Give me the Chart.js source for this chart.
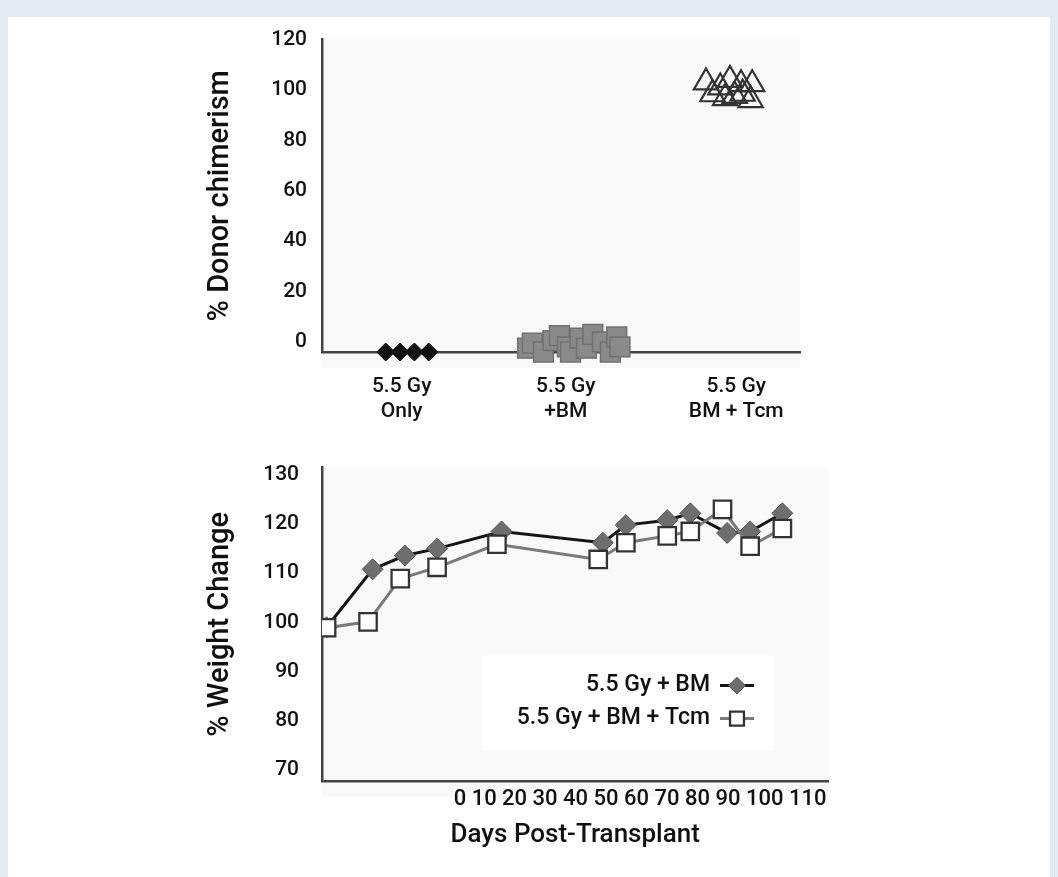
<!DOCTYPE html>
<html>
<head>
<meta charset="utf-8">
<script src="https://cdn.jsdelivr.net/npm/chart.js@4.4.1/dist/chart.umd.min.js"></script>
<style>
  html, body { margin: 0; padding: 0; }
  body { width: 1058px; height: 877px; background: #e4eaf4; position: relative; overflow: hidden; }
  #panel { position: absolute; left: 8px; top: 17px; right: 8px; bottom: 0; background: #fff; }
  canvas { position: absolute; }
  #chimerism { left: 203px; top: 20px; }
  #weight { left: 203px; top: 440px; }
</style>
</head>
<body>
<div id="panel"></div>
<canvas id="chimerism" width="617" height="410"></canvas>
<canvas id="weight" width="640" height="430"></canvas>
<script>
// ---- top panel: % donor chimerism per group ----
const groupTicks = [0.5, 1.53, 2.6];
const groupLabels = [['5.5 Gy', 'Only'], ['5.5 Gy', '+BM'], ['5.5 Gy', 'BM + Tcm']];
const chimerismTicks = [0, 20, 40, 60, 80, 100, 120];

const onlyX = [0.40, 0.49, 0.58, 0.67];
const onlyY = [0, 0, 0, 0];
const bmX = [1.29, 1.32, 1.39, 1.45, 1.49, 1.54, 1.56, 1.62, 1.66, 1.70, 1.76, 1.81, 1.85, 1.87];
const bmY = [1.5, 3.5, 0, 4.5, 6.5, 2, 0, 5.5, 1.5, 7, 4, 0, 6, 2];
const tcmX = [2.41, 2.50, 2.56, 2.63, 2.70, 2.45, 2.53, 2.59, 2.64, 2.69];
const tcmY = [107, 105, 108, 106.3, 106.3, 102.3, 100.8, 101.7, 102.5, 100];

// ---- bottom panel: % weight change over time ----
const daysBM = [1, 11, 18, 25, 39, 61, 66, 75, 80, 88, 93, 100];
const weightBM = [99, 110.8, 113.6, 115.0, 118.5, 116.2, 119.8, 120.8, 122.2, 118.2, 118.5, 122.2];
const daysTcm = [1, 10, 17, 25, 38, 60, 66, 75, 80, 87, 93, 100];
const weightTcm = [98.9, 100.1, 108.9, 111.2, 115.9, 112.8, 116.2, 117.6, 118.5, 123.0, 115.5, 119.1];
const weightTicks = [70, 80, 90, 100, 110, 120, 130];
const dayTickLabels = ['0', '10', '20', '30', '40', '50', '60', '70', '80', '90', '100', '110'];

const FONT = 'Roboto, "Liberation Sans", Arial, sans-serif';
const WEIGHT = '500';
const INK = '#111';
const AXIS = '#444';

Chart.defaults.font.family = FONT;
Chart.defaults.font.weight = WEIGHT;
Chart.defaults.color = INK;

function pts(xs, ys) {
    return xs.map(function(x, i) { return { x: x, y: ys[i] }; });
}

function fixTicks(values) {
    return function(scale) { scale.ticks = values.map(function(v) { return { value: v }; }); };
}

// faint grey plot background, like the scanned figure
const plotShade = {
    id: 'plotShade',
    beforeDraw: function(chart) {
        const a = chart.chartArea, ctx = chart.ctx;
        ctx.save();
        ctx.fillStyle = '#f9f9f9';
        ctx.fillRect(a.left, a.top, a.right - a.left, a.bottom - a.top + 16);
        ctx.restore();
    }
};

new Chart(document.getElementById('chimerism'), {
    type: 'scatter',
    data: {
        datasets: [
            { label: '5.5 Gy Only', data: pts(onlyX, onlyY), pointStyle: 'rectRot', pointRadius: 9,
              backgroundColor: '#111', borderColor: '#111', borderWidth: 1, clip: false },
            { label: '5.5 Gy +BM', data: pts(bmX, bmY), pointStyle: 'rect', pointRadius: 14,
              backgroundColor: '#8a8a8a', borderColor: '#707070', borderWidth: 1.5, clip: false },
            { label: '5.5 Gy BM + Tcm', data: pts(tcmX, tcmY), pointStyle: 'triangle', pointRadius: 14,
              backgroundColor: 'rgba(255,255,255,0)', borderColor: '#333', borderWidth: 2.2, clip: false }
        ]
    },
    options: {
        responsive: false,
        animation: false,
        devicePixelRatio: 1,
        layout: { padding: { top: 14, right: 20, left: 0, bottom: 0 } },
        plugins: { legend: { display: false }, tooltip: { enabled: false } },
        scales: {
            x: {
                type: 'linear', min: 0, max: 3,
                grid: { display: false },
                border: { color: AXIS, width: 2.5 },
                afterBuildTicks: fixTicks(groupTicks),
                afterFit: function(s) { s.height = 78; },
                ticks: { padding: 14, autoSkip: false, maxRotation: 0, font: { size: 21 }, color: INK,
                         callback: function(v, i) { return groupLabels[i]; } }
            },
            y: {
                min: 0, max: 124,
                grid: { display: false },
                border: { color: AXIS, width: 2.5 },
                afterBuildTicks: fixTicks(chimerismTicks),
                afterFit: function(s) { s.width = 119; },
                ticks: { padding: 7, labelOffset: -10, font: { size: 21 }, color: INK },
                title: { display: true, text: '% Donor chimerism', font: { size: 29 }, color: INK, padding: 0 }
            }
        }
    },
    plugins: [plotShade]
});

// legend inside the plot + the row of day labels under the axis
const weightExtras = {
    id: 'weightExtras',
    afterDraw: function(chart) {
        const a = chart.chartArea, ctx = chart.ctx;
        ctx.save();
        ctx.fillStyle = '#fff';
        ctx.fillRect(a.left + 161, a.top + 188, 290, 95);

        ctx.font = WEIGHT + ' 23px ' + FONT;
        ctx.textAlign = 'right';
        ctx.textBaseline = 'middle';
        chart.data.datasets.forEach(function(ds, i) {
            const y = a.top + 218 + i * 33;
            const mx = a.left + 415;
            ctx.strokeStyle = ds.borderColor;
            ctx.lineWidth = ds.borderWidth;
            ctx.beginPath();
            ctx.moveTo(mx - 17, y);
            ctx.lineTo(mx + 17, y);
            ctx.stroke();
            ctx.fillStyle = ds.pointBackgroundColor;
            ctx.strokeStyle = ds.pointBorderColor;
            ctx.lineWidth = ds.pointBorderWidth;
            Chart.helpers.drawPoint(ctx, { pointStyle: ds.pointStyle, radius: ds.pointRadius * 0.8,
                                           borderWidth: ds.pointBorderWidth, rotation: 0 }, mx, y);
            ctx.fillStyle = INK;
            ctx.fillText(ds.label, mx - 27, y);
        });

        ctx.font = WEIGHT + ' 22px ' + FONT;
        ctx.fillStyle = INK;
        ctx.textAlign = 'right';
        ctx.fillText(dayTickLabels.join(' '), a.right - 2, a.bottom + 18);
        ctx.restore();
    }
};

new Chart(document.getElementById('weight'), {
    type: 'scatter',
    data: {
        datasets: [
            { label: '5.5 Gy + BM', data: pts(daysBM, weightBM), showLine: true,
              borderColor: '#151515', borderWidth: 3, pointStyle: 'rectRot', pointRadius: 10.5,
              pointBackgroundColor: '#6e6e6e', pointBorderColor: '#5a5a5a', pointBorderWidth: 1, order: 1 },
            { label: '5.5 Gy + BM + Tcm', data: pts(daysTcm, weightTcm), showLine: true,
              borderColor: '#7a7a7a', borderWidth: 3, pointStyle: 'rect', pointRadius: 12.3,
              pointBackgroundColor: '#fff', pointBorderColor: '#333', pointBorderWidth: 2.3, order: 0 }
        ]
    },
    options: {
        responsive: false,
        animation: false,
        devicePixelRatio: 1,
        layout: { padding: { top: 15, right: 13, left: 0, bottom: 0 } },
        plugins: { legend: { display: false }, tooltip: { enabled: false } },
        scales: {
            x: {
                type: 'linear', min: 0, max: 110,
                grid: { display: false },
                border: { color: AXIS, width: 2.5 },
                ticks: { display: false },
                afterFit: function(s) { s.height = 89; },
                title: { display: true, text: 'Days Post-Transplant', font: { size: 26 }, color: INK,
                         padding: { top: 0, bottom: 19 } }
            },
            y: {
                min: 67.7, max: 131.5,
                grid: { display: false },
                border: { color: AXIS, width: 2.5 },
                afterBuildTicks: fixTicks(weightTicks),
                afterFit: function(s) { s.width = 119; },
                ticks: { padding: 15, font: { size: 21 }, color: INK },
                title: { display: true, text: '% Weight Change', font: { size: 29 }, color: INK, padding: 0 }
            }
        }
    },
    plugins: [plotShade, weightExtras]
});
</script>
</body>
</html>
